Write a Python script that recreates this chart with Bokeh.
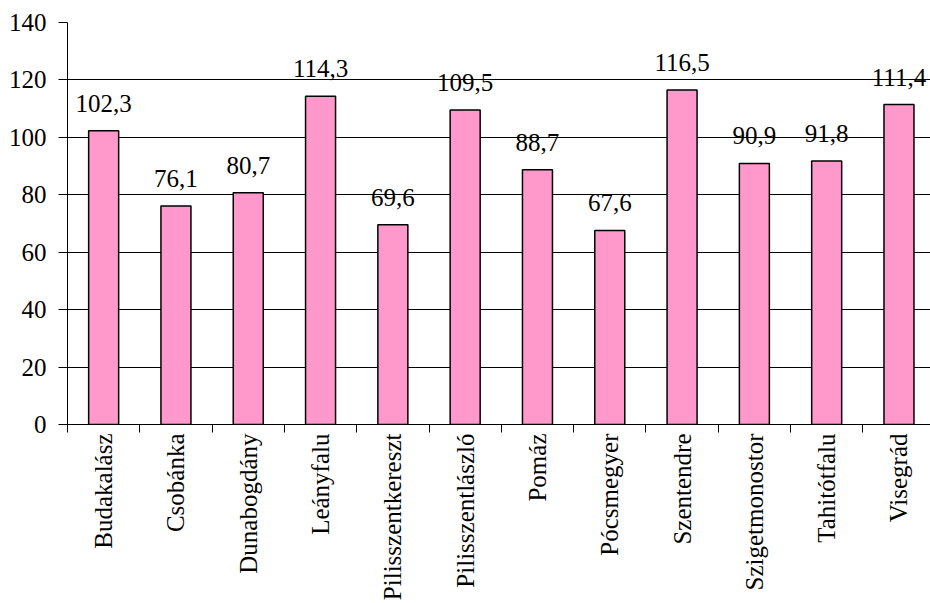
from bokeh.plotting import figure
from bokeh.models import FixedTicker, ColumnDataSource, LabelSet
from bokeh.embed import file_html
from bokeh.resources import INLINE
import math

towns = ["Budakalász", "Csobánka", "Dunabogdány", "Leányfalu", "Pilisszentkereszt",
         "Pilisszentlászló", "Pomáz", "Pócsmegyer", "Szentendre", "Szigetmonostor",
         "Tahitótfalu", "Visegrád"]
values = [102.3, 76.1, 80.7, 114.3, 69.6, 109.5, 88.7, 67.6, 116.5, 90.9, 91.8, 111.4]
value_labels = ["102,3", "76,1", "80,7", "114,3", "69,6", "109,5", "88,7", "67,6",
                "116,5", "90,9", "91,8", "111,4"]
y_ticks = [0, 20, 40, 60, 80, 100, 120, 140]

FONT = "Liberation Serif"

xs = [i + 0.5 for i in range(len(towns))]
src = ColumnDataSource(dict(x=xs, top=values, lab=value_labels))

p = figure(width=930, height=603, output_backend="svg", toolbar_location=None,
           x_range=(0, 11.936), y_range=(0, 140),
           min_border_left=67, min_border_right=0, min_border_top=22, min_border_bottom=178)
p.outline_line_color = None
p.background_fill_color = "white"
p.border_fill_color = "white"

p.vbar(x="x", top="top", width=0.415, bottom=0, source=src,
       fill_color="#FF99CC", line_color="black", line_width=1.5)

labels = LabelSet(x="x", y="top", text="lab", source=src, text_align="center",
                  text_baseline="alphabetic", y_offset=19, text_font=FONT,
                  text_font_size="25px", text_color="black")
p.add_layout(labels)

# y axis
p.yaxis.ticker = FixedTicker(ticks=y_ticks)
p.yaxis.major_label_text_font = FONT
p.yaxis.major_label_text_font_size = "25px"
p.yaxis.major_label_text_color = "black"
p.yaxis.major_tick_out = 9
p.yaxis.major_tick_in = 0
p.yaxis.minor_tick_line_color = None
p.yaxis.axis_line_color = "black"
p.yaxis.major_tick_line_color = "black"
p.yaxis.major_label_standoff = 12

# x axis: category names at centres, tick marks at boundaries
p.xaxis.ticker = FixedTicker(ticks=xs, minor_ticks=list(range(len(towns) + 1)))
p.xaxis.major_label_overrides = {x: t for x, t in zip(xs, towns)}
p.xaxis.major_label_orientation = math.pi / 2
p.xaxis.major_label_text_font = FONT
p.xaxis.major_label_text_font_size = "25px"
p.xaxis.major_label_text_color = "black"
p.xaxis.major_tick_line_color = None
p.xaxis.major_tick_out = 8
p.xaxis.major_tick_in = 0
p.xaxis.minor_tick_out = 8
p.xaxis.minor_tick_in = 0
p.xaxis.minor_tick_line_color = "black"
p.xaxis.axis_line_color = "black"
p.xaxis.major_label_standoff = 1

p.xgrid.grid_line_color = None
p.ygrid.grid_line_color = "black"
p.ygrid.grid_line_width = 1

open("out.html", "w").write(file_html(p, INLINE))
